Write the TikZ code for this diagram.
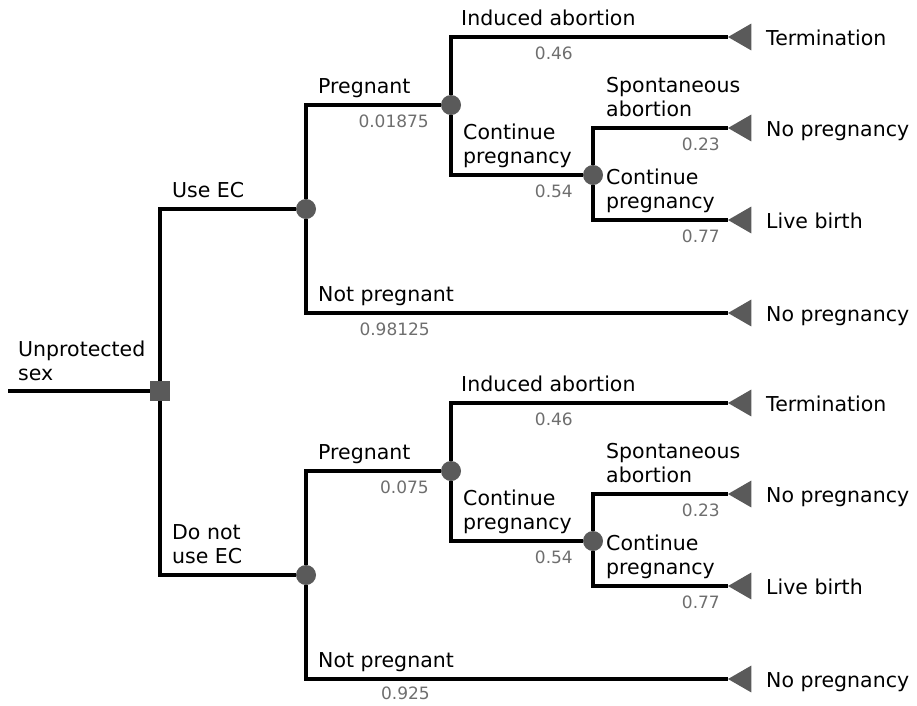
\documentclass[tikz,border=0pt]{standalone}
\usepackage{fontspec}
\setmainfont{DejaVu Sans}
\usepackage{tikz}
\usetikzlibrary{shapes.geometric, positioning}
\definecolor{nodegray}{RGB}{90,90,90}
\definecolor{probgray}{RGB}{110,110,110}
\tikzset{
  decnode/.style={
    rectangle, fill=nodegray,
    minimum size=20pt, inner sep=0pt
  },
  chancenode/.style={
    circle, fill=nodegray,
    minimum size=20pt, inner sep=0pt
  },
  endnode/.style={
    regular polygon, regular polygon sides=3,
    shape border rotate=90, fill=nodegray,
    minimum size=31pt, inner sep=0pt
  },
  branch/.style={line width=3.5pt, black},
  lbl/.style={
    anchor=base west, align=left, inner sep=0pt,
    font=\fontsize{20.5}{24}\selectfont
  },
  prob/.style={
    anchor=base east, inner sep=0pt, text=probgray,
    font=\fontsize{17}{20}\selectfont
  }
}

\begin{document}
\begin{tikzpicture}[x=1pt, y=-1pt]
    \useasboundingbox (0,0) rectangle (917,705);
    % decision and chance nodes
    \coordinate (start) at (8,391);
    \node[decnode] (dec) at (160,391) {};
    \node[chancenode] (ec) at (306,209) {};
    \node[chancenode] (ecpreg) at (451,105) {};
    \node[chancenode] (eccont) at (593,175) {};
    \node[chancenode] (noec) at (306,575) {};
    \node[chancenode] (noecpreg) at (451,471) {};
    \node[chancenode] (noeccont) at (593,541) {};
    % terminal nodes
    \node[endnode] (ecterm) at (743.5,37) {};
    \node[endnode] (ecspont) at (743.5,128) {};
    \node[endnode] (ecbirth) at (743.5,220) {};
    \node[endnode] (ecnot) at (743.5,313) {};
    \node[endnode] (noecterm) at (743.5,403) {};
    \node[endnode] (noecspont) at (743.5,494) {};
    \node[endnode] (noecbirth) at (743.5,586) {};
    \node[endnode] (noecnot) at (743.5,679) {};
    % branches
    \draw[branch] (start) -- (dec);
    \draw[branch] (dec) |- (ec);
    \draw[branch] (dec) |- (noec);
    \draw[branch] (ec) |- (ecpreg);
    \draw[branch] (ec) |- (ecnot.corner 1);
    \draw[branch] (ecpreg) |- (ecterm.corner 1);
    \draw[branch] (ecpreg) |- (eccont);
    \draw[branch] (eccont) |- (ecspont.corner 1);
    \draw[branch] (eccont) |- (ecbirth.corner 1);
    \draw[branch] (noec) |- (noecpreg);
    \draw[branch] (noec) |- (noecnot.corner 1);
    \draw[branch] (noecpreg) |- (noecterm.corner 1);
    \draw[branch] (noecpreg) |- (noeccont);
    \draw[branch] (noeccont) |- (noecspont.corner 1);
    \draw[branch] (noeccont) |- (noecbirth.corner 1);
    % branch labels (base = last line)
    \node[lbl] (lstart) at (18,380) {Unprotected\\sex};
    \node[lbl] (luse) at (172,197) {Use EC};
    \node[lbl] (lnouse) at (172,563) {Do not\\use EC};
    \node[lbl] (lecpreg) at (318,93) {Pregnant};
    \node[lbl] (lecnot) at (318,301) {Not pregnant};
    \node[lbl] (lecind) at (461,25) {Induced abortion};
    \node[lbl] (leccont) at (463,163) {Continue\\pregnancy};
    \node[lbl] (lecspont) at (606,116) {Spontaneous\\abortion};
    \node[lbl] (lecbirth) at (606,208) {Continue\\pregnancy};
    \node[lbl] (lnoecpreg) at (318,459) {Pregnant};
    \node[lbl] (lnoecnot) at (318,667) {Not pregnant};
    \node[lbl] (lnoecind) at (461,391) {Induced abortion};
    \node[lbl] (lnoeccont) at (463,529) {Continue\\pregnancy};
    \node[lbl] (lnoecspont) at (606,482) {Spontaneous\\abortion};
    \node[lbl] (lnoecbirth) at (606,574) {Continue\\pregnancy};
    % probabilities
    \node[prob] (pecpreg) at (429,127) {0.01875};
    \node[prob] (pecnot) at (430,335) {0.98125};
    \node[prob] (pecind) at (573,59) {0.46};
    \node[prob] (peccont) at (573,197) {0.54};
    \node[prob] (pecspont) at (720,150) {0.23};
    \node[prob] (pecbirth) at (720,242) {0.77};
    \node[prob] (pnoecpreg) at (429,493) {0.075};
    \node[prob] (pnoecnot) at (430,699) {0.925};
    \node[prob] (pnoecind) at (573,425) {0.46};
    \node[prob] (pnoeccont) at (573,563) {0.54};
    \node[prob] (pnoecspont) at (720,516) {0.23};
    \node[prob] (pnoecbirth) at (720,608) {0.77};
    % outcomes
    \node[lbl] (oecterm) at (766,45) {Termination};
    \node[lbl] (oecspont) at (766,136) {No pregnancy};
    \node[lbl] (oecbirth) at (766,228) {Live birth};
    \node[lbl] (oecnot) at (766,321) {No pregnancy};
    \node[lbl] (onoecterm) at (766,411) {Termination};
    \node[lbl] (onoecspont) at (766,502) {No pregnancy};
    \node[lbl] (onoecbirth) at (766,594) {Live birth};
    \node[lbl] (onoecnot) at (766,687) {No pregnancy};
\end{tikzpicture}
\end{document}
